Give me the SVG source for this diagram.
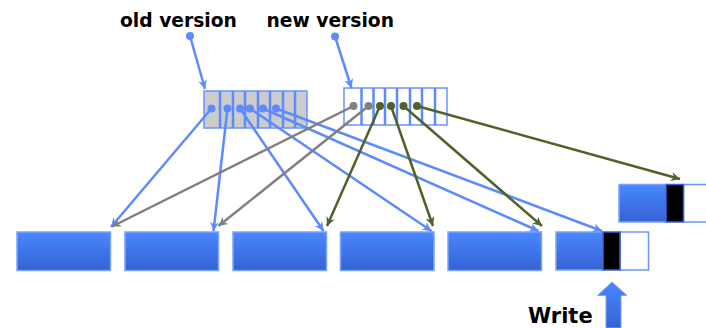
<svg xmlns="http://www.w3.org/2000/svg" width="706" height="328" viewBox="0 0 706 328">
<style>
  .lbl{font-family:"DejaVu Sans","Liberation Sans",sans-serif;font-weight:bold;fill:#000}
  .blk{fill:url(#bg);stroke:#7aa2ff;stroke-width:1.5}
  .blkc{fill:#000;stroke:#3a5fd0;stroke-width:1.5}
  .blkw{fill:#fff;stroke:#6d96ff;stroke-width:1.5}
  .cellOld{fill:#cccccc;stroke:#6b93ff;stroke-width:1.5}
  .cellNew{fill:#fff;stroke:#6b93ff;stroke-width:1.5}
  .div{stroke:#5d8bff;stroke-width:2.5}
  .cb{stroke:#5d8bff;stroke-width:2.5;fill:none;marker-end:url(#ab)}
  .cg{stroke:#808080;stroke-width:2.5;fill:none;marker-end:url(#ag)}
  .co{stroke:#4f6228;stroke-width:2.5;fill:none;marker-end:url(#ao)}
</style>
<defs>
  <linearGradient id="bg" x1="0" y1="0" x2="0" y2="1">
    <stop offset="0" stop-color="#4a88ff"/>
    <stop offset="1" stop-color="#3462d2"/>
  </linearGradient>
  <marker id="ab" viewBox="0 0 10 10" refX="10" refY="5" markerWidth="11" markerHeight="9" markerUnits="userSpaceOnUse" orient="auto">
    <path d="M0,0 L10,5 L0,10 L3,5 z" fill="#5d8bff"/>
  </marker>
  <marker id="ag" viewBox="0 0 10 10" refX="10" refY="5" markerWidth="11" markerHeight="9" markerUnits="userSpaceOnUse" orient="auto">
    <path d="M0,0 L10,5 L0,10 L3,5 z" fill="#808080"/>
  </marker>
  <marker id="ao" viewBox="0 0 10 10" refX="10" refY="5" markerWidth="11" markerHeight="9" markerUnits="userSpaceOnUse" orient="auto">
    <path d="M0,0 L10,5 L0,10 L3,5 z" fill="#4f6228"/>
  </marker>
</defs>
<rect width="706" height="328" fill="#fff"/>

<g id="label-old">
  <text class="lbl" x="120" y="27" font-size="18.7">old version</text>
</g>
<g id="label-new">
  <text class="lbl" x="266.5" y="27" font-size="18.7">new version</text>
</g>

<g id="index-old">
  <rect class="cellOld" x="204" y="91" width="103" height="37"/>
  <line class="div" x1="220" y1="91" x2="220" y2="128"/>
  <line class="div" x1="233" y1="91" x2="233" y2="128"/>
  <line class="div" x1="245" y1="91" x2="245" y2="128"/>
  <line class="div" x1="258" y1="91" x2="258" y2="128"/>
  <line class="div" x1="270" y1="91" x2="270" y2="128"/>
  <line class="div" x1="283" y1="91" x2="283" y2="128"/>
  <line class="div" x1="295" y1="91" x2="295" y2="128"/>
</g>
<g id="index-new">
  <rect class="cellNew" x="344" y="88" width="103" height="37"/>
  <line class="div" x1="361.5" y1="88" x2="361.5" y2="125"/>
  <line class="div" x1="373.5" y1="88" x2="373.5" y2="125"/>
  <line class="div" x1="385" y1="88" x2="385" y2="125"/>
  <line class="div" x1="397" y1="88" x2="397" y2="125"/>
  <line class="div" x1="410" y1="88" x2="410" y2="125"/>
  <line class="div" x1="422" y1="88" x2="422" y2="125"/>
  <line class="div" x1="435" y1="88" x2="435" y2="125"/>
</g>

<g id="block-1"><rect class="blk" x="17" y="232" width="93.5" height="38.5"/></g>
<g id="block-2"><rect class="blk" x="125" y="232" width="93.5" height="38.5"/></g>
<g id="block-3"><rect class="blk" x="233" y="232" width="93.5" height="38.5"/></g>
<g id="block-4"><rect class="blk" x="340.5" y="232" width="93.5" height="38.5"/></g>
<g id="block-5"><rect class="blk" x="448" y="232" width="93.5" height="38.5"/></g>
<g id="block-6">
  <rect class="blkw" x="620" y="232" width="28.5" height="38"/>
  <rect class="blk" x="556" y="232" width="47" height="38"/>
  <rect class="blkc" x="603" y="232" width="17" height="38"/>
</g>
<g id="block-new">
  <rect class="blkw" x="683.5" y="184.5" width="30" height="37.5"/>
  <rect class="blk" x="619" y="184.5" width="47" height="37.5"/>
  <rect class="blkc" x="666" y="184.5" width="17.5" height="37.5"/>
</g>

<g id="write">
  <polygon points="612,282 597.5,295.5 606,295.5 606,328 621,328 621,295.5 627,295.5" fill="url(#bg)" stroke="#7aa2ff" stroke-width="1"/>
  <text class="lbl" x="528" y="322.5" font-size="21">Write</text>
</g>

<g id="connectors">
  <line class="cb" x1="190" y1="36" x2="205" y2="89"/>
  <circle cx="190" cy="36" r="4" fill="#5d8bff"/>
  <line class="cb" x1="335" y1="36.5" x2="351.5" y2="88"/>
  <circle cx="335" cy="36.5" r="4" fill="#5d8bff"/>

  <line class="cb" x1="211.5" y1="108.5" x2="111" y2="227"/>
  <line class="cb" x1="227.5" y1="108.5" x2="213.5" y2="231"/>
  <line class="cb" x1="240" y1="108.5" x2="323.5" y2="231"/>
  <line class="cb" x1="250" y1="108.5" x2="431.5" y2="231"/>
  <line class="cb" x1="263" y1="108.5" x2="538.5" y2="231"/>
  <line class="cb" x1="276" y1="108.5" x2="602" y2="231"/>
  <g fill="#5d8bff">
    <circle cx="211.5" cy="108.5" r="4"/>
    <circle cx="227.5" cy="108.5" r="4"/>
    <circle cx="240" cy="108.5" r="4"/>
    <circle cx="250" cy="108.5" r="4"/>
    <circle cx="263" cy="108.5" r="4"/>
    <circle cx="276" cy="108.5" r="4"/>
  </g>

  <line class="cg" x1="353.5" y1="106" x2="112" y2="226.5"/>
  <line class="cg" x1="368.5" y1="106" x2="218.5" y2="226"/>
  <line class="co" x1="380" y1="106" x2="327" y2="226"/>
  <line class="co" x1="391" y1="106" x2="433" y2="226"/>
  <line class="co" x1="403.5" y1="106" x2="542" y2="226"/>
  <line class="co" x1="417" y1="106" x2="680" y2="179"/>
  <circle cx="353.5" cy="106" r="4" fill="#808080"/>
  <circle cx="368.5" cy="106" r="4" fill="#808080"/>
  <g fill="#4f6228">
    <circle cx="380" cy="106" r="4"/>
    <circle cx="391" cy="106" r="4"/>
    <circle cx="403.5" cy="106" r="4"/>
    <circle cx="417" cy="106" r="4"/>
  </g>
</g>
</svg>
